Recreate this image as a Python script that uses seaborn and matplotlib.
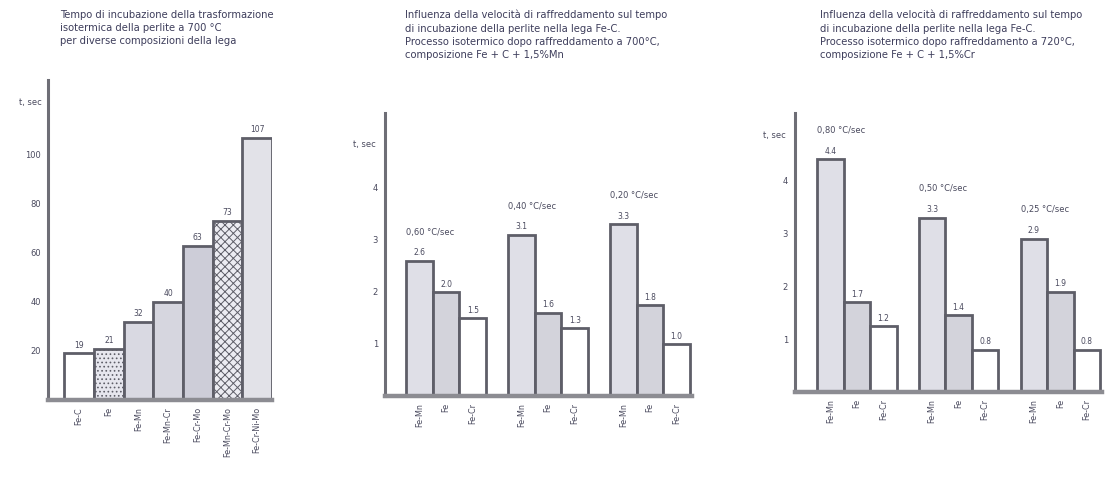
import matplotlib
matplotlib.use("Agg")
import matplotlib.pyplot as plt
import pandas as pd
import seaborn as sns

sns.set_theme(style="white")
plt.rcParams["font.family"] = ["DejaVu Sans"]
plt.rcParams["hatch.linewidth"] = 0.7
plt.rcParams["hatch.color"] = "#8a8a9c"

# ---- panel A: incubation time for different alloys at 700 °C
alloys = ["Fe-C", "Fe", "Fe-Mn", "Fe-Mn-Cr", "Fe-Cr-Mo", "Fe-Mn-Cr-Mo", "Fe-Cr-Ni-Mo"]
incubation = [19, 21, 32, 40, 63, 73, 107]
yticks_a = [20, 40, 60, 80, 100]

# ---- panels B and C: effect of cooling rate
steels = ["Fe-Mn", "Fe", "Fe-Cr"]
rates_b = ["0,60 °C/sec", "0,40 °C/sec", "0,20 °C/sec"]
times_b_femn = [2.6, 3.1, 3.3]
times_b_fe = [2.0, 1.6, 1.75]
times_b_fecr = [1.5, 1.3, 1.0]

rates_c = ["0,80 °C/sec", "0,50 °C/sec", "0,25 °C/sec"]
times_c_femn = [4.4, 3.3, 2.9]
times_c_fe = [1.7, 1.45, 1.9]
times_c_fecr = [1.25, 0.8, 0.8]
yticks_bc = [1, 2, 3, 4]

titles = [
    "Tempo di incubazione della trasformazione\nisotermica della perlite a 700 °C\nper diverse composizioni della lega",
    "Influenza della velocità di raffreddamento sul tempo\ndi incubazione della perlite nella lega Fe-C.\nProcesso isotermico dopo raffreddamento a 700°C,\ncomposizione Fe + C + 1,5%Mn",
    "Influenza della velocità di raffreddamento sul tempo\ndi incubazione della perlite nella lega Fe-C.\nProcesso isotermico dopo raffreddamento a 720°C,\ncomposizione Fe + C + 1,5%Cr",
]

EDGE = "#5e5e68"
TXT = "#4a4a5e"
fills_a = ["#ffffff", "#e6e6ee", "#d9d9e2", "#d6d6df", "#cdcdd8", "#ececf2", "#e2e2e8"]
hatch_a = ["", "....", "", "", "", "xxxx", ""]
fills_bc = {"Fe-Mn": "#dedee8", "Fe": "#d2d2dc", "Fe-Cr": "#ffffff"}

fig = plt.figure(figsize=(11.12, 4.84), dpi=100)
W, H = 1112, 484


def axes_px(left, right, bottom, top):
    return fig.add_axes([left / W, 1 - bottom / H, (right - left) / W, (bottom - top) / H])


def style_axes(ax, yticks, ylim, xlim, unit_y):
    ax.set_ylim(*ylim)
    ax.set_xlim(*xlim)
    ax.set_yticks(yticks)
    ax.set_yticklabels([f"{t:g}" for t in yticks], fontsize=6, color=TXT)
    ax.tick_params(axis="both", length=0, pad=5)
    for s in ("top", "right"):
        ax.spines[s].set_visible(False)
    ax.spines["left"].set_color("#6e6e76")
    ax.spines["left"].set_linewidth(2.2)
    ax.spines["bottom"].set_color("#8c8c92")
    ax.spines["bottom"].set_linewidth(3.2)
    ax.set_xlabel("")
    ax.set_ylabel("")
    ax.text(-0.03, unit_y, "t, sec", transform=ax.transAxes, ha="right", va="center",
            fontsize=6, color=TXT)


def bar_labels(ax, bars, fmt):
    centers = [b.get_x() + b.get_width() / 2 for b in bars]
    for b, c in zip(bars, centers):
        h = b.get_height()
        ax.text(c, h + ax.get_ylim()[1] * 0.012, fmt(h), ha="center", va="bottom",
                fontsize=5.5, color=TXT)
    return centers


# ---- panel A
axA = axes_px(48, 272, 400, 80)
dfA = pd.DataFrame({"alloy": alloys, "t": incubation})
sns.barplot(data=dfA, x="alloy", y="t", width=1.0, color="white",
            edgecolor=EDGE, linewidth=2, ax=axA)
barsA = list(axA.containers[0])
for b, fc, ht in zip(barsA, fills_a, hatch_a):
    b.set_facecolor(fc)
    b.set_hatch(ht)
style_axes(axA, yticks_a, (0, 130.6), (-1.05, 6.5), 0.93)
cA = bar_labels(axA, barsA, lambda v: f"{v:g}")
axA.set_xticks(cA)
axA.set_xticklabels(alloys, rotation=90, fontsize=5.8, color=TXT, va="top")


def rate_panel(ax, rates, s1, s2, s3, ylim, xlim, unit_y):
    df = pd.DataFrame({
        "rate": rates * 3,
        "steel": [steels[0]] * 3 + [steels[1]] * 3 + [steels[2]] * 3,
        "t": s1 + s2 + s3,
    })
    sns.barplot(data=df, x="rate", y="t", hue="steel", hue_order=steels,
                palette=fills_bc, width=0.78, edgecolor=EDGE, linewidth=2,
                legend=False, ax=ax)
    style_axes(ax, yticks_bc, ylim, xlim, unit_y)
    centers, names = [], []
    for steel, cont in zip(steels, ax.containers):
        cs = bar_labels(ax, list(cont), lambda v: f"{v:.1f}")
        centers += cs
        names += [steel] * len(cs)
    order = sorted(range(len(centers)), key=lambda i: centers[i])
    ax.set_xticks([centers[i] for i in order])
    ax.set_xticklabels([names[i] for i in order], rotation=90, fontsize=5.8,
                       color=TXT, va="top")
    # rate annotation above each group
    first = ax.containers[0]
    for k, rate in enumerate(rates):
        tallest = max(cont[k].get_height() for cont in ax.containers)
        ax.text(first[k].get_x(), tallest + 0.55, rate, ha="left", va="center",
                fontsize=6, color=TXT)


axB = axes_px(385, 692, 396, 113)
rate_panel(axB, rates_b, times_b_femn, times_b_fe, times_b_fecr,
           (0, 5.44), (-0.6, 2.41), 0.887)

axC = axes_px(795, 1102, 392, 113)
rate_panel(axC, rates_c, times_c_femn, times_c_fe, times_c_fecr,
           (0, 5.28), (-0.61, 2.41), 0.92)

for x, title in zip([60, 405, 820], titles):
    fig.text(x / W, 1 - 10 / H, title, ha="left", va="top", fontsize=7.2,
             color="#3e3e5c", linespacing=1.38)

fig.savefig("out.png", dpi=100, facecolor="white")
